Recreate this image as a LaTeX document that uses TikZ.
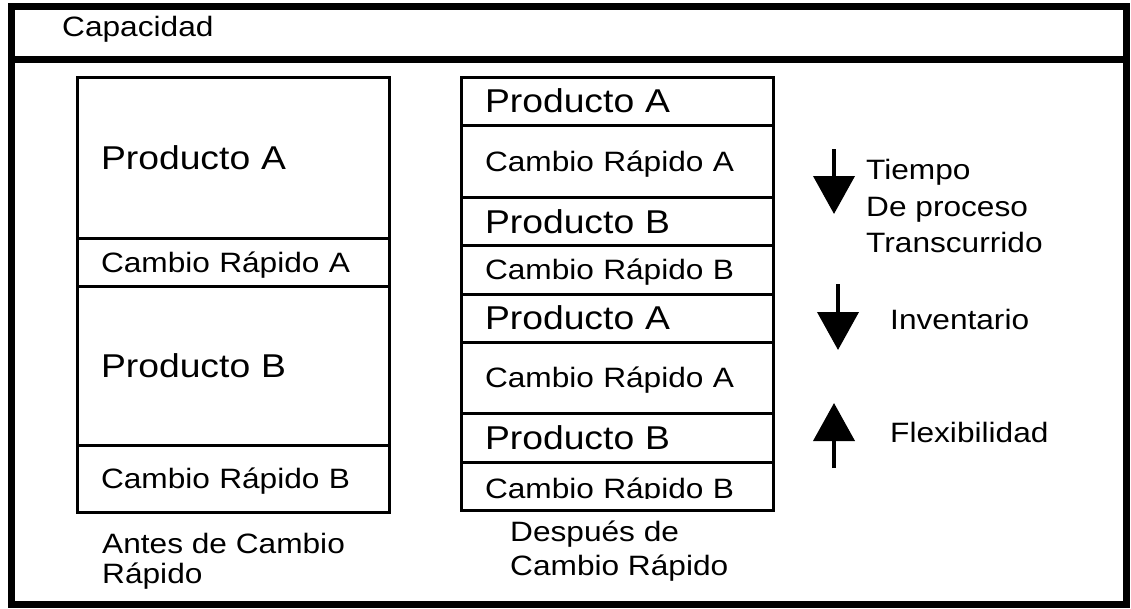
\documentclass[tikz,border=0pt]{standalone}
\usepackage{fontspec}
\setmainfont{Liberation Sans}[FakeStretch=1.13]
\usetikzlibrary{arrows.meta,positioning}

\begin{document}
\begin{tikzpicture}[
  x=1pt, y=-1pt,
  marco/.style={line width=7pt},
  celda/.style={draw, line width=3pt, outer sep=0pt, inner xsep=24pt, inner ysep=0pt, text width=264pt, align=left},
  grande/.style={font=\fontsize{33}{38}\selectfont, text height=23.6pt, text depth=0pt},
  chica/.style={font=\fontsize{28}{32}\selectfont, text height=20pt, text depth=0pt},
  etiqueta/.style={anchor=base west, inner sep=0pt, align=left},
  flecha/.style={line width=4pt, -{Triangle[length=38pt, width=41pt]}},
]
\useasboundingbox (0,0) rectangle (1131,608);

% marco y franja de capacidad
\draw[marco] (11,6) rectangle (1126.5,604);
\draw[marco] (11,59) -- (1126.5,59);
\node[etiqueta, chica] (capacidad) at (62,36.7) {Capacidad};

% antes del cambio rapido
\node[celda, grande, minimum height=161pt, anchor=north] (antesA) at (233,77) {Producto A};
\node[celda, chica, minimum height=48pt, below=0pt of antesA] (antesCA) {Cambio Rápido A};
\node[celda, grande, minimum height=159pt, below=0pt of antesCA] (antesB) {Producto B};
\node[celda, chica, minimum height=67pt, below=0pt of antesB] (antesCB) {Cambio Rápido B};
\node[etiqueta, font=\fontsize{28}{30}\selectfont] (antes) at (102,583) {Antes de Cambio\\Rápido};

% despues del cambio rapido
\node[celda, grande, minimum height=48pt, anchor=north] (despA1) at (617,77) {Producto A};
\node[celda, chica, minimum height=72pt, below=0pt of despA1] (despCA1) {Cambio Rápido A};
\node[celda, grande, minimum height=48.5pt, below=0pt of despCA1] (despB1) {Producto B};
\node[celda, chica, minimum height=48.5pt, below=0pt of despB1] (despCB1) {Cambio Rápido B};
\node[celda, grande, minimum height=48pt, below=0pt of despCB1] (despA2) {Producto A};
\node[celda, chica, minimum height=71pt, below=0pt of despA2] (despCA2) {Cambio Rápido A};
\node[celda, grande, minimum height=49pt, below=0pt of despCA2] (despB2) {Producto B};
\node[celda, chica, minimum height=48pt, below=0pt of despB2] (despCB2) {};
\begin{scope}
  \clip (despCB2.north west) rectangle ([yshift=-36pt]despCB2.north east);
  \node[celda, chica, draw=none] (despCB2txt) at ([yshift=-2pt]despCB2) {Cambio Rápido B};
\end{scope}
\node[etiqueta, font=\fontsize{28}{34}\selectfont] (despues) at (510,575) {Después de\\Cambio Rápido};

% efectos
\coordinate (tiempoIni) at (834,149);
\coordinate (tiempoFin) at (834,214);
\coordinate (invIni) at (838,284);
\coordinate (invFin) at (838,350);
\coordinate (flexIni) at (834,468);
\coordinate (flexFin) at (834,403);
\draw[flecha] (tiempoIni) -- (tiempoFin);
\draw[flecha] (invIni) -- (invFin);
\draw[flecha] (flexIni) -- (flexFin);
\node[etiqueta, font=\fontsize{28}{36.7}\selectfont] (tiempo) at (866,252.7) {Tiempo\\De proceso\\Transcurrido};
\node[etiqueta, chica] (inventario) at (890,329) {Inventario};
\node[etiqueta, chica] (flexibilidad) at (890,442) {Flexibilidad};

\end{tikzpicture}
\end{document}
